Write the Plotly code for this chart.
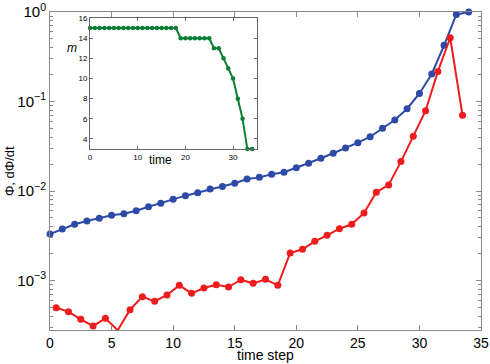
import plotly.graph_objects as go

# main data
blue_t = list(range(0, 35))
blue_phi = [3.3e-3, 3.76e-3, 4.25e-3, 4.62e-3, 4.95e-3, 5.35e-3, 5.57e-3, 6.03e-3, 6.68e-3, 7.28e-3,
            8.07e-3, 8.87e-3, 9.57e-3, 0.0105, 0.0112, 0.0122, 0.0136, 0.0142, 0.0154, 0.0162,
            0.0182, 0.0204, 0.0232, 0.0264, 0.0302, 0.0347, 0.0404, 0.0501, 0.0621, 0.083,
            0.123, 0.203, 0.424, 0.94, 1.0]
red_t = [i + 0.5 for i in range(0, 34)]
red_dphi = [4.97e-4, 4.49e-4, 3.68e-4, 3.1e-4, 3.78e-4, 2.78e-4, 4.72e-4, 6.6e-4, 5.85e-4, 6.89e-4,
            8.83e-4, 7.19e-4, 8.24e-4, 8.97e-4, 8.45e-4, 1.02e-3, 9.3e-4, 1.03e-3, 8.84e-4, 2.03e-3,
            2.23e-3, 2.74e-3, 3.2e-3, 3.79e-3, 4.25e-3, 5.68e-3, 9.67e-3, 0.0117, 0.0213, 0.0408,
            0.0789, 0.217, 0.516, 0.0701]
# inset data
green_t = list(range(0, 35))
green_m = [15] * 19 + [14] * 7 + [13, 13, 12, 11, 10, 8, 6, 3, 3]

x_ticks = [0, 5, 10, 15, 20, 25, 30, 35]
y_tickvals = [1e-3, 1e-2, 1e-1, 1]
y_ticktext = ["10<sup>−3</sup>", "10<sup>−2</sup>", "10<sup>−1</sup>", "10<sup>0</sup>"]
y_minor = [m * 10.0 ** e for e in (-4, -3, -2, -1) for m in range(2, 10)]
inset_xticks = [0, 10, 20, 30]
inset_yticks = [4, 6, 8, 10, 12, 14, 16]

BLUE = "#2c4aa6"
RED = "#ee1c1c"
GREEN = "#0d7f35"
FONT = "Liberation Sans, Arial, sans-serif"

fig = go.Figure()
fig.add_trace(go.Scatter(x=blue_t, y=blue_phi, mode="lines+markers",
                         line=dict(color=BLUE, width=2), marker=dict(color=BLUE, size=7),
                         xaxis="x", yaxis="y", cliponaxis=False))
fig.add_trace(go.Scatter(x=red_t, y=red_dphi, mode="lines+markers",
                         line=dict(color=RED, width=2), marker=dict(color=RED, size=7),
                         xaxis="x", yaxis="y", cliponaxis=False))
fig.add_trace(go.Scatter(x=green_t, y=green_m, mode="lines+markers",
                         line=dict(color=GREEN, width=2), marker=dict(color=GREEN, size=4.5),
                         xaxis="x2", yaxis="y2", cliponaxis=False))

axis_color = "#8a8a8a"
fig.update_layout(
    template="none",
    width=490, height=364,
    margin=dict(l=50, r=9, t=12, b=34, autoexpand=False),
    paper_bgcolor="white", plot_bgcolor="white",
    showlegend=False,
    font=dict(family=FONT, size=14, color="black"),
    xaxis=dict(domain=[0, 1], range=[0, 35], tickvals=x_ticks, ticks="inside", ticklen=5,
               tickcolor=axis_color, showline=True, linecolor=axis_color, linewidth=1,
               mirror="ticks", showgrid=False, zeroline=False, automargin=False,
               tickfont=dict(size=14)),
    yaxis=dict(domain=[0, 1], type="log", range=[-3.553, 0], tickvals=y_tickvals,
               ticktext=y_ticktext, ticks="inside", ticklen=5, tickcolor=axis_color,
               showline=True, linecolor=axis_color, linewidth=1, mirror="ticks",
               showgrid=False, zeroline=False, automargin=False, tickfont=dict(size=15),
               minor=dict(tickvals=y_minor, ticks="inside", ticklen=3, tickcolor=axis_color,
                          showgrid=False)),
    xaxis2=dict(domain=[0.093, 0.48], anchor="y2", range=[0, 35], tickvals=inset_xticks,
                ticks="inside", ticklen=3, tickcolor="#666", showline=True, linecolor="#666",
                linewidth=1, mirror="ticks", showgrid=False, zeroline=False, automargin=False,
                tickfont=dict(size=8)),
    yaxis2=dict(domain=[0.569, 0.981], anchor="x2", range=[3, 16], tickvals=inset_yticks,
                ticks="inside", ticklen=3, tickcolor="#666", showline=True, linecolor="#666",
                linewidth=1, mirror="ticks", showgrid=False, zeroline=False, automargin=False,
                tickfont=dict(size=8)),
    annotations=[
        dict(text="time step", xref="paper", yref="paper", x=0.499, y=-0.1069,
             xanchor="center", yanchor="bottom", showarrow=False, font=dict(size=14),
             borderpad=0),
        dict(text="Φ, dΦ/dt", xref="paper", yref="paper", x=-0.095, y=0.50,
             xanchor="center", yanchor="middle", textangle=-90, showarrow=False,
             font=dict(size=13)),
        dict(text="time", xref="x2", yref="paper", x=14.7, y=0.535,
             xanchor="center", yanchor="middle", showarrow=False, font=dict(size=12)),
        dict(text="<i>m</i>", xref="paper", yref="y2", x=0.051, y=13.0,
             xanchor="center", yanchor="middle", showarrow=False, font=dict(size=12)),
    ],
)
fig.write_html("out.html", config={"displayModeBar": False},
               post_script="document.body.style.margin='0';document.body.style.overflow='hidden';")
